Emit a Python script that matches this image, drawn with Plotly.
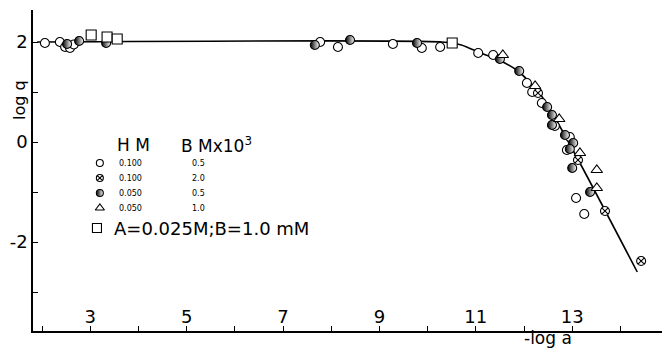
import plotly.graph_objects as go

# ---------------- data ----------------
# open circle : H 0.100 M, B 0.5e-3 M
circ_x = [2.06, 2.37, 2.48, 2.58, 2.66, 7.77, 8.14, 9.28, 9.88, 10.26, 11.05, 11.36,
          12.06, 12.17, 12.37, 12.64, 12.95, 12.89, 13.08, 13.25]
circ_y = [1.98, 2.00, 1.90, 1.88, 1.95, 2.00, 1.90, 1.96, 1.88, 1.90, 1.78, 1.74,
          1.18, 1.00, 0.78, 0.32, 0.10, -0.16, -1.12, -1.44]
# crossed circle : H 0.100 M, B 2.0e-3 M
xcirc_x = [12.29, 13.12, 13.68, 14.43]
xcirc_y = [0.98, -0.36, -1.38, -2.38]
# half-filled circle : H 0.050 M, B 0.5e-3 M
half_x = [2.52, 2.77, 3.33, 7.66, 8.39, 9.78, 11.50, 11.90, 12.48, 12.58, 12.58,
          12.85, 13.02, 12.95, 13.00, 13.37]
half_y = [1.96, 2.02, 1.98, 1.94, 2.04, 1.98, 1.66, 1.42, 0.70, 0.54, 0.34,
          0.14, -0.02, -0.14, -0.52, -1.00]
# triangle : H 0.050 M, B 1.0e-3 M
tri_x = [11.56, 12.23, 12.73, 13.16, 13.51, 13.51]
tri_y = [1.74, 1.12, 0.46, -0.22, -0.56, -0.92]
# square : A 0.025 M, B 1.0 mM
sq_x = [3.02, 3.35, 3.56, 10.51]
sq_y = [2.14, 2.10, 2.06, 1.98]

# drawn curve
curve_x = [1.90, 10.30, 10.70, 11.10, 11.50, 11.90, 12.30, 12.50, 13.16, 14.35]
curve_y = [2.00, 2.00, 1.94, 1.78, 1.63, 1.40, 1.00, 0.72, -0.42, -2.60]

# axis ticks
x_tickvals = list(range(2, 15))
x_ticktext = ["" if v % 2 == 0 else str(v) for v in x_tickvals]
y_tickvals = [-3, -2, -1, 0, 1, 2]
y_ticktext = ["", "-2", "", "0", "", "2"]

# legend table
leg_hm = ["0.100", "0.100", "0.050", "0.050"]
leg_b = ["0.5", "2.0", "0.5", "1.0"]

FONT = "DejaVu Sans"
fig = go.Figure()

fig.add_trace(go.Scatter(x=curve_x, y=curve_y, mode="lines",
                         line=dict(color="black", width=1.6, shape="spline", smoothing=0.6),
                         hoverinfo="skip"))

def add_pts(xs, ys, symbol, size=9, **mk):
    marker = dict(symbol=symbol, size=size, color="white",
                  line=dict(color="black", width=1.1))
    marker.update(mk)
    fig.add_trace(go.Scatter(x=xs, y=ys, mode="markers", marker=marker))

add_pts(circ_x, circ_y, "circle")
add_pts(xcirc_x, xcirc_y, "circle-x")
add_pts(half_x, half_y, "circle", color="black",
        gradient=dict(type="horizontal", color="white"))
add_pts(tri_x, tri_y, "triangle-up", size=10)
add_pts(sq_x, sq_y, "square", size=10)

# ---------- legend (symbols + text) ----------
row_y = [-0.42, -0.72, -1.02, -1.32]
sym_x = 3.2
add_pts([sym_x], [row_y[0]], "circle", size=7)
add_pts([sym_x], [row_y[1]], "circle-x", size=7)
add_pts([sym_x], [row_y[2]], "circle", size=7, color="black",
        gradient=dict(type="horizontal", color="white"))
add_pts([sym_x], [row_y[3]], "triangle-up", size=8)
add_pts([3.14], [-1.72], "square", size=9)

ann = []
ann.append(dict(x=3.89, y=-0.06, text="H M", showarrow=False,
                font=dict(family=FONT, size=17, color="black")))
ann.append(dict(x=5.62, y=-0.06, text="B Mx10<sup>3</sup>", showarrow=False,
                font=dict(family=FONT, size=17, color="black")))
for ry, hm, b in zip(row_y, leg_hm, leg_b):
    ann.append(dict(x=3.55, y=ry, text=hm, showarrow=False, xanchor="left",
                    font=dict(family=FONT, size=8, color="black")))
    ann.append(dict(x=5.24, y=ry, text=b, showarrow=False,
                    font=dict(family=FONT, size=8, color="black")))
ann.append(dict(x=3.46, y=-1.72, text="A=0.025M;B=1.0 mM", showarrow=False,
                xanchor="left", font=dict(family=FONT, size=18, color="black")))
# axis titles
ann.append(dict(xref="paper", yref="paper", x=548 / 662, y=0.0,
                xanchor="center", yanchor="bottom",
                text="-log a", showarrow=False,
                font=dict(family=FONT, size=17, color="black")))
ann.append(dict(xref="paper", yref="paper", x=19 / 662, y=(350 - 100) / 350,
                xanchor="center", yanchor="middle",
                text="log q", showarrow=False, textangle=-90,
                font=dict(family=FONT, size=16, color="black")))

fig.update_layout(
    width=662, height=350,
    margin=dict(l=0, r=0, t=0, b=0),
    paper_bgcolor="white", plot_bgcolor="white",
    showlegend=False,
    annotations=ann,
    xaxis=dict(domain=[33 / 662, 1.0], range=[1.813, 14.863],
               tickvals=x_tickvals, ticktext=x_ticktext,
               ticks="inside", ticklen=5, tickwidth=1.2, tickcolor="black",
               ticklabelposition="inside",
               showline=True, linecolor="black", linewidth=1.6,
               showgrid=False, zeroline=False,
               tickfont=dict(family=FONT, size=18, color="black")),
    yaxis=dict(domain=[19 / 350, 340 / 350], range=[-3.78, 2.64],
               tickvals=y_tickvals, ticktext=y_ticktext,
               ticks="inside", ticklen=5, tickwidth=1.2, tickcolor="black",
               showline=True, linecolor="black", linewidth=1.6,
               showgrid=False, zeroline=False,
               tickfont=dict(family=FONT, size=18, color="black")),
)

fig.write_html("out.html")
